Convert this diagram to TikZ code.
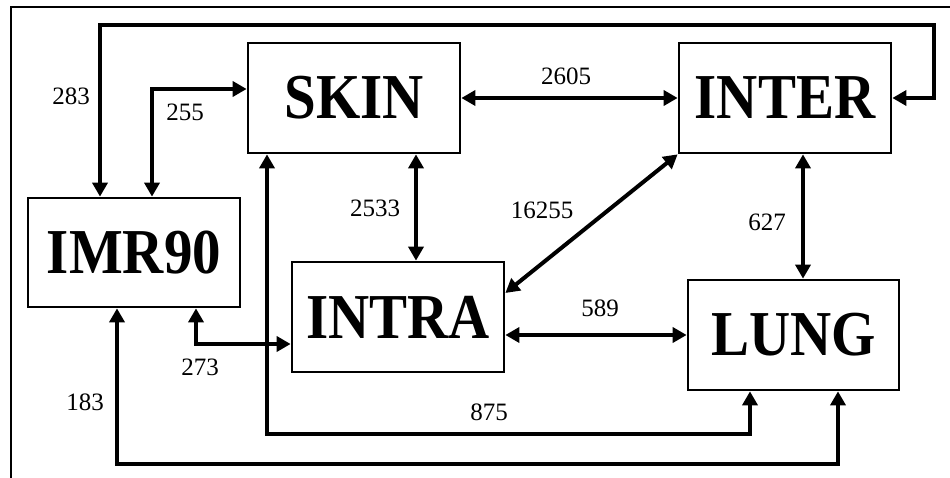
\documentclass[tikz,border=0pt]{standalone}
\usepackage{fontspec}
\setmainfont{Liberation Serif}
\usetikzlibrary{arrows.meta}
\begin{document}
\begin{tikzpicture}[x=1pt,y=-1pt,
  box/.style={draw,line width=2.7pt,minimum width=212pt,minimum height=110pt,inner sep=0pt,
    font=\fontsize{64}{64}\selectfont\bfseries},
  dbl/.style={line width=4pt,{Triangle[length=14pt,width=15pt]}-{Triangle[length=14pt,width=15pt]}},
  lbl/.style={font=\fontsize{25}{25}\selectfont,inner sep=0pt}]
\useasboundingbox (0,0) rectangle (950,478);
\fill[white] (0,0) rectangle (950,478);
\draw[line width=2pt] (11,478) -- (11,7) -- (950,7);
\node[box] (skin) at (354,98) {\scalebox{0.89}[1]{SKIN}};
\node[box] (inter) at (785,98) {\scalebox{0.89}[1]{INTER}};
\node[box,minimum height=109pt] (imr) at (134,252.5) {\scalebox{0.89}[1]{IMR90}};
\node[box] (intra) at (398,317) {\scalebox{0.89}[1]{INTRA}};
\node[box,minimum width=211pt] (lung) at (793.5,335) {\scalebox{0.89}[1]{LUNG}};
% connectors
\draw[dbl] ([xshift=-34pt]imr.north) |- (934,25) |- (inter.east);
\draw[dbl] ([xshift=18pt]imr.north) |- ([yshift=9pt]skin.west);
\draw[dbl] (skin.east) -- (inter.west);
\draw[dbl] ([xshift=62pt]skin.south) -- ([xshift=62pt]skin.south |- intra.north);
\draw[dbl] (inter.south west) -- ([yshift=24pt]intra.east);
\draw[dbl] ([xshift=18pt]inter.south) -- ([xshift=18pt]inter.south |- lung.north);
\draw[dbl] (lung.west -| intra.east) -- (lung.west);
\draw[dbl] ([xshift=62pt]imr.south) |- ([yshift=-27pt]intra.west);
\draw[dbl] ([xshift=-87pt]skin.south) -- ++(0,280) -| ([xshift=-43.5pt]lung.south);
\draw[dbl] ([xshift=-17pt]imr.south) -- ++(0,156) -| ([xshift=44.5pt]lung.south);
% labels
\node[lbl] (l283) at (71,96) {283};
\node[lbl] (l255) at (185,112) {255};
\node[lbl] (l2605) at (566,76) {2605};
\node[lbl] (l2533) at (375,208) {2533};
\node[lbl] (l16255) at (542,210) {16255};
\node[lbl] (l627) at (767,222) {627};
\node[lbl] (l589) at (600,308) {589};
\node[lbl] (l273) at (200,367) {273};
\node[lbl] (l183) at (85,402) {183};
\node[lbl] (l875) at (489,412) {875};
\end{tikzpicture}
\end{document}
